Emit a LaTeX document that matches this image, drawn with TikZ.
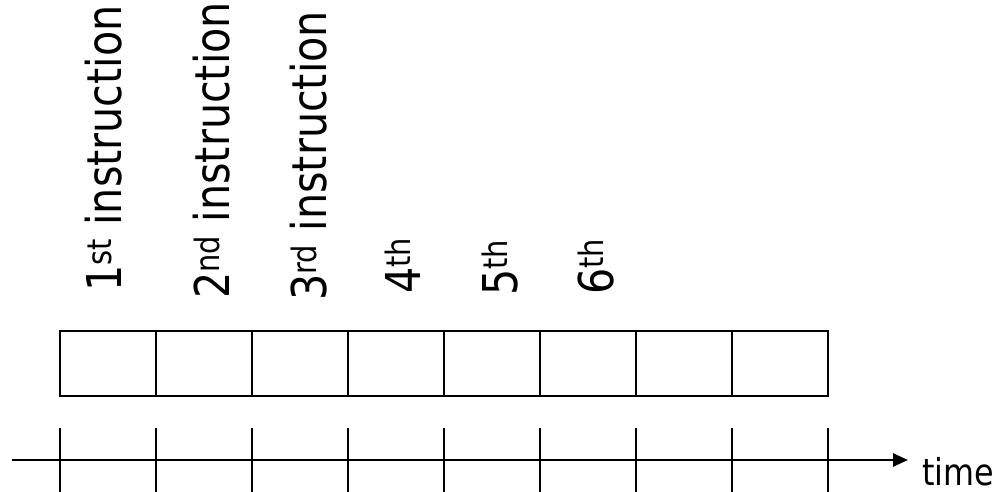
\documentclass[tikz,border=0pt]{standalone}
\usepackage{fontspec}
\setmainfont{DejaVu Sans}
\newfontfamily\lblfont[FakeStretch=0.86]{DejaVu Sans}
\usetikzlibrary{arrows.meta}
\tikzset{
  cell/.style={draw, line width=2.5pt, minimum width=96pt, minimum height=65pt, inner sep=0pt, outer sep=0pt},
  lbl/.style={rotate=90, anchor=base west, inner sep=0pt, font=\lblfont\fontsize{48}{56}\selectfont},
  tick/.style={line width=2.5pt},
  axis/.style={line width=2.5pt, -{Triangle[length=15pt,width=13pt]}},
  timelbl/.style={anchor=base west, inner sep=0pt, font=\lblfont\fontsize{37}{44}\selectfont}
}
\begin{document}
\begin{tikzpicture}[x=1pt,y=-1pt]
\useasboundingbox (0,0) rectangle (994,492);
\foreach \i in {1,...,8}{
  \node[cell] (c\i) at ({60+96*(\i-1)+48},363.5) {};
}
\node[lbl] (l1) at (121,292) {1\textsuperscript{st} instruction};
\node[lbl] (l2) at (229,299) {2\textsuperscript{nd} instruction};
\node[lbl] (l3) at (326,301) {3\textsuperscript{rd} instruction};
\node[lbl] (l4) at (420,294) {4\textsuperscript{th}};
\node[lbl] (l5) at (517,296) {5\textsuperscript{th}};
\node[lbl] (l6) at (613,295) {6\textsuperscript{th}};
\foreach \i in {0,...,8}{
  \coordinate (ta\i) at ({60+96*\i},428);
  \coordinate (tb\i) at ({60+96*\i},492);
  \draw[tick] (ta\i) -- (tb\i);
}
\coordinate (axs) at (12,460);
\coordinate (axe) at (908,460);
\draw[axis] (axs) -- (axe);
\node[timelbl] (time) at (922,485) {time};
\end{tikzpicture}
\end{document}
